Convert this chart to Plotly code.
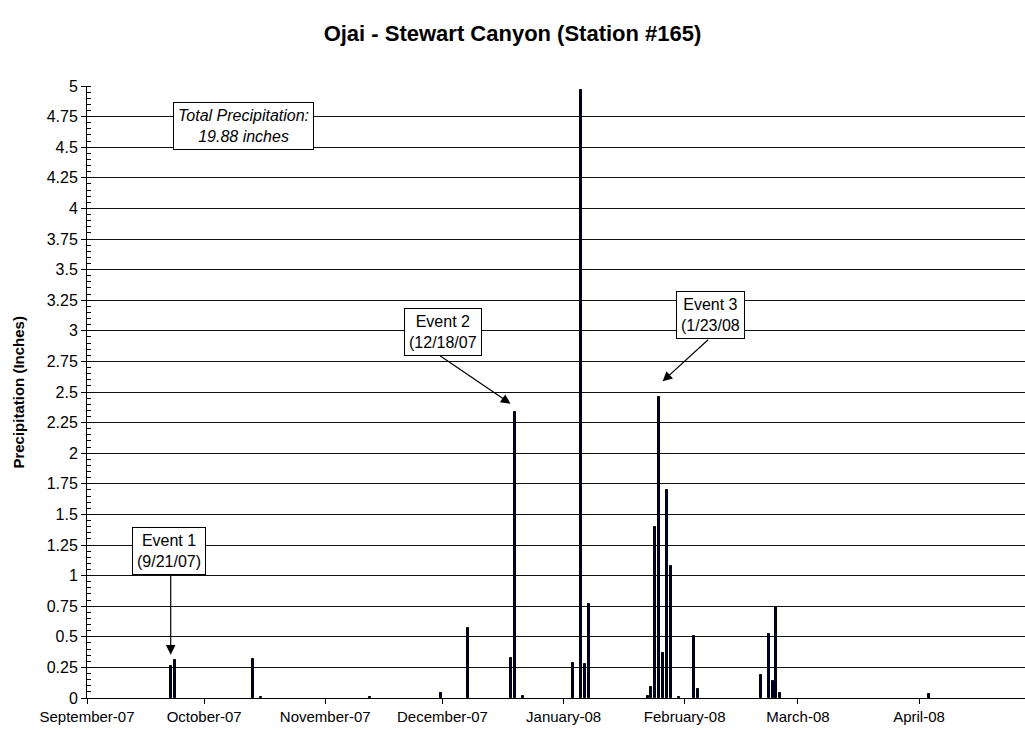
import plotly.graph_objects as go

# ---- data ----
rain_dates = [
    "2007-09-22", "2007-09-23", "2007-10-13", "2007-10-15", "2007-11-12",
    "2007-11-30", "2007-12-07", "2007-12-18", "2007-12-19", "2007-12-21",
    "2008-01-03", "2008-01-05", "2008-01-06", "2008-01-07",
    "2008-01-22", "2008-01-23", "2008-01-24", "2008-01-25", "2008-01-26",
    "2008-01-27", "2008-01-28", "2008-01-30", "2008-02-03", "2008-02-04",
    "2008-02-20", "2008-02-22", "2008-02-23", "2008-02-24", "2008-02-25",
    "2008-04-03",
]
rain_inches = [
    0.26, 0.31, 0.32, 0.01, 0.01,
    0.04, 0.57, 0.33, 2.34, 0.02,
    0.29, 4.97, 0.28, 0.77,
    0.02, 0.09, 1.40, 2.46, 0.37,
    1.70, 1.08, 0.01, 0.51, 0.07,
    0.19, 0.52, 0.14, 0.74, 0.04,
    0.03,
]
month_ticks = ["2007-09-01", "2007-10-01", "2007-11-01", "2007-12-01",
               "2008-01-01", "2008-02-01", "2008-03-01", "2008-04-01"]
month_labels = ["September-07", "October-07", "November-07", "December-07",
                "January-08", "February-08", "March-08", "April-08"]
y_ticks = [0, 0.25, 0.5, 0.75, 1, 1.25, 1.5, 1.75, 2, 2.25, 2.5, 2.75,
           3, 3.25, 3.5, 3.75, 4, 4.25, 4.5, 4.75, 5]
y_labels = ["0", "0.25", "0.5", "0.75", "1", "1.25", "1.5", "1.75", "2",
            "2.25", "2.5", "2.75", "3", "3.25", "3.5", "3.75", "4", "4.25",
            "4.5", "4.75", "5"]

title_text = "Ojai - Stewart Canyon (Station #165)"
y_title = "Precipitation (Inches)"
total_text = "Total Precipitation:<br>19.88 inches"

FONT = "Arial, 'Liberation Sans', sans-serif"
DAY_MS = 86400000

fig = go.Figure()
fig.add_trace(go.Bar(
    x=rain_dates, y=rain_inches,
    xperiod=DAY_MS, xperiodalignment="middle",
    width=0.5 * DAY_MS,
    marker=dict(color="#000040", line=dict(color="black", width=1)),
    showlegend=False, hoverinfo="skip",
))

fig.update_layout(
    width=1025, height=730,
    margin=dict(l=87, r=0, t=86, b=32, autoexpand=False),
    paper_bgcolor="white", plot_bgcolor="white",
    font=dict(family=FONT, size=16, color="black"),
    title=dict(text="<b>" + title_text + "</b>", x=0.5, xanchor="center",
               y=1 - 33 / 730, yanchor="middle",
               font=dict(family=FONT, size=22, color="black")),
    bargap=0,
    xaxis=dict(
        type="date",
        range=["2007-09-01", "2008-04-28 03:00"],
        tickmode="array", tickvals=month_ticks, ticktext=month_labels,
        ticks="outside", ticklen=5, tickcolor="black",
        showgrid=False, showline=True, linecolor="black", linewidth=1,
        tickfont=dict(size=15), automargin=False,
        zeroline=False,
    ),
    yaxis=dict(
        range=[0, 5],
        tickmode="array", tickvals=y_ticks, ticktext=y_labels,
        ticks="outside", ticklen=5, tickcolor="black",
        showgrid=True, gridcolor="#111111", gridwidth=1,
        showline=True, linecolor="black", linewidth=1,
        zeroline=False, automargin=False,
        tickfont=dict(size=16),
        minor=dict(tick0=0, dtick=0.05, ticks="inside", ticklen=4,
                   tickcolor="black", showgrid=False),
    ),
)

# y-axis title
fig.add_annotation(text="<b>" + y_title + "</b>", textangle=-90,
                   xref="paper", yref="paper", x=-0.074, y=0.5,
                   xanchor="center", yanchor="middle", showarrow=False,
                   font=dict(size=15))

box = dict(showarrow=False, bgcolor="white", bordercolor="black",
           borderwidth=1, borderpad=4, xref="paper", yref="paper",
           xanchor="center", yanchor="middle", align="center",
           font=dict(size=16))

fig.add_annotation(text="<i>" + total_text + "</i>", x=0.1666, y=0.9343, **box)
fig.add_annotation(text="Event 1<br>(9/21/07)", x=0.0870, y=0.2395, **box)
fig.add_annotation(text="Event 2<br>(12/18/07", x=0.3790, y=0.5982, **box)
fig.add_annotation(text="Event 3<br>(1/23/08", x=0.6643, y=0.6258, **box)

arrow = dict(text="", showarrow=True, arrowhead=2, arrowsize=1.6,
             arrowwidth=1.2, arrowcolor="black", xref="x", yref="y",
             axref="pixel", ayref="pixel", standoff=0)
fig.add_annotation(x="2007-09-22 10:20", y=0.354, ax=0, ay=-81, **arrow)
fig.add_annotation(x="2007-12-18 10:00", y=2.404, ax=-72, ay=-49, **arrow)
fig.add_annotation(x="2008-01-26 08:30", y=2.587, ax=47, ay=-43, **arrow)

fig.write_html("out.html",
               config={"displayModeBar": False},
               post_script="document.body.style.margin='0';"
                           "document.body.style.overflow='hidden';")
